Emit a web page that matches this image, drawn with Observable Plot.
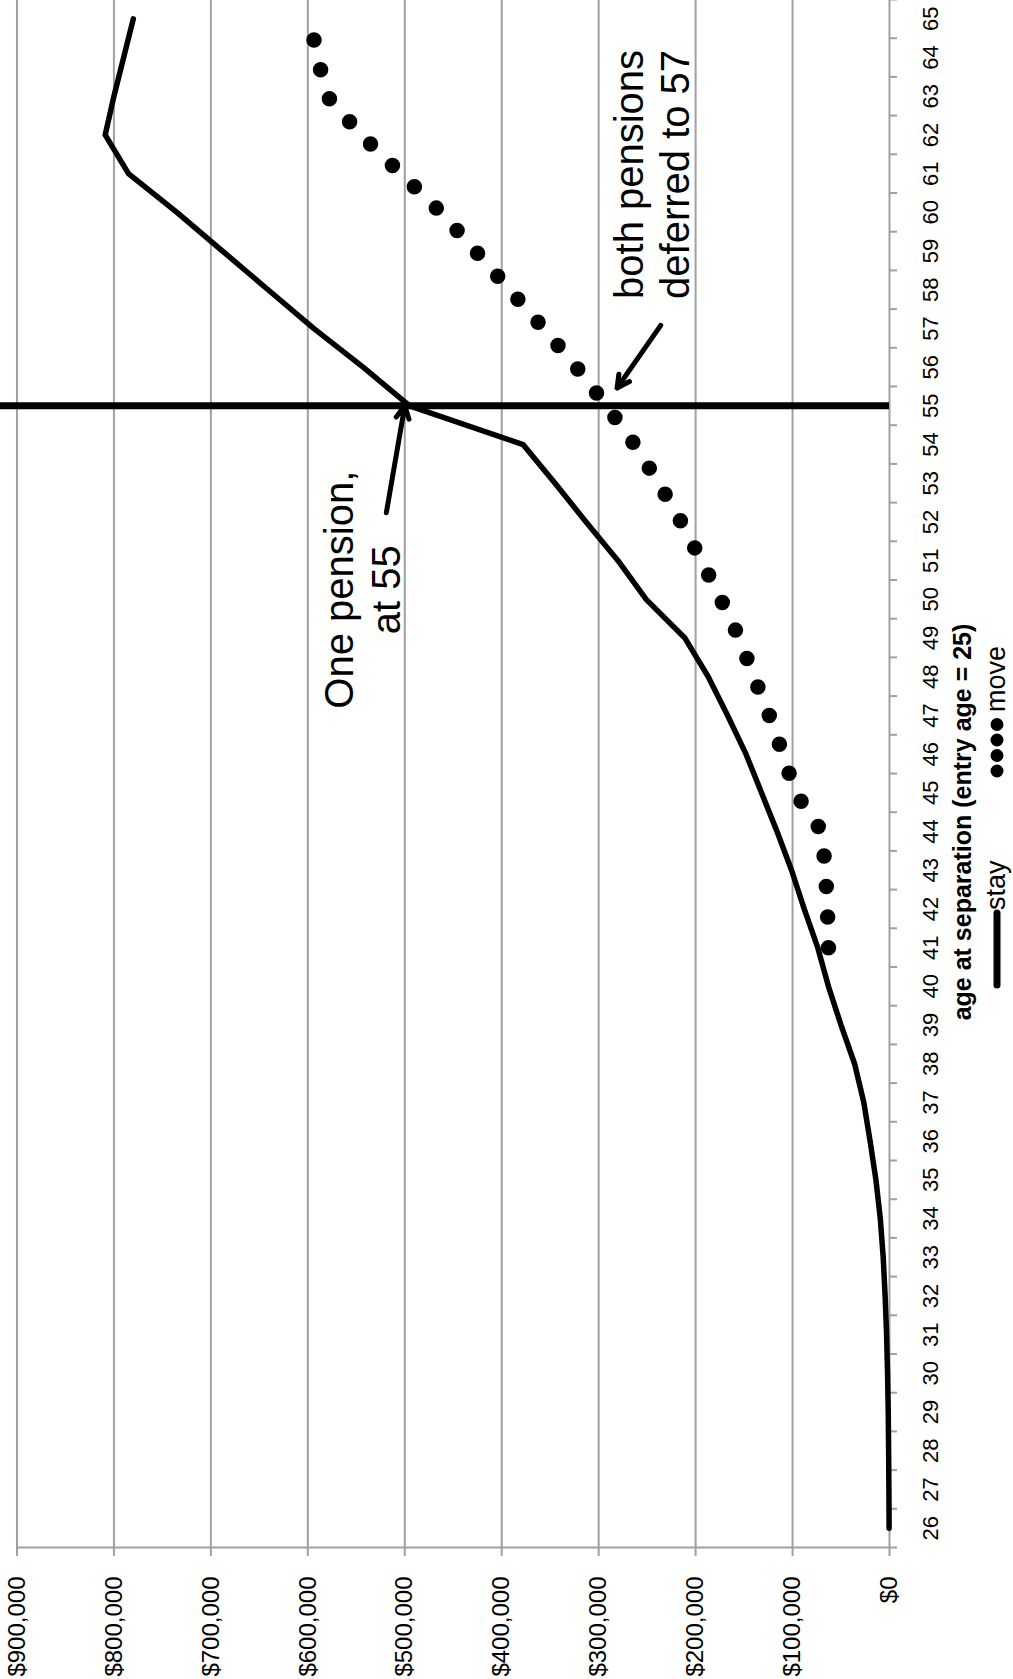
<!DOCTYPE html>
<html>
<head>
<meta charset="utf-8">
<script src="https://cdn.jsdelivr.net/npm/d3@7"></script>
<script src="https://cdn.jsdelivr.net/npm/@observablehq/plot@0.6"></script>
<style>
  html, body { margin: 0; padding: 0; width: 1013px; height: 1679px; overflow: hidden; background: #fff; }
  #rot { position: absolute; left: 0; top: 0; width: 1679px; height: 1013px;
         transform-origin: 0 0; transform: translate(0px, 1679px) rotate(-90deg);
         font-family: "Liberation Sans", Arial, sans-serif; background: #fff; }
  #rot svg text { fill: #000; }
  #rot svg [aria-label^="x-axis"] line, #rot svg [aria-label^="y-axis"] line,
  #rot svg [aria-label^="x-axis"] path, #rot svg [aria-label^="y-axis"] path { stroke-width: 2px; }
  .title { position: absolute; left: 557px; width: 600px; top: 950px; text-align: center;
           font-weight: bold; font-size: 25px; line-height: 25px; color: #000; white-space: nowrap; }
  .leg { position: absolute; font-size: 27px; line-height: 27px; color: #000; }
</style>
</head>
<body>
<div id="rot"></div>
<script>
// ---- data ----
const ages = [26,27,28,29,30,31,32,33,34,35,36,37,38,39,40,41,42,43,44,45,46,47,48,49,50,51,52,53,54,55,56,57,58,59,60,61,62,63,64,65];
const stayValues = [400,600,900,1300,2000,3000,4500,6500,9500,14000,20000,26500,36000,50000,63000,74000,88000,101000,116000,132000,148000,167000,187000,211000,251000,280000,313000,345000,378000,495000,543000,594000,641000,688000,735000,785000,809000,800000,790000,780000];
const moveAges = [41,42,43,44,45,46,47,48,49,50,51,52,53,54,55,56,57,58,59,60,61,62,63,64,65];
const moveValues = [63000,64000,66000,70000,97000,110000,124000,140000,155000,174000,194000,215000,238000,263000,292000,323000,357000,392000,427000,463000,504000,545000,580000,590000,598000];
const yTicks = [0,100000,200000,300000,400000,500000,600000,700000,800000,900000];
const markerAge = [55];
const noteTexts = ["One pension,\nat 55", "both pensions\ndeferred to 57"];
const noteAges = [50.25, 60.98];
const noteValues = [545000, 246000];
const arrowFromAges = [52.24, 57.08];
const arrowFromValues = [519000, 236000];
const arrowToAges = [55, 55.46];
const arrowToValues = [500000, 281000];
const xTitle = "age at separation (entry age = 25)";
const seriesNames = ["stay", "move"];

// ---- tables ----
const stay = ages.map((a, i) => ({age: a, value: stayValues[i]}));
const move = moveAges.map((a, i) => ({age: a, value: moveValues[i]}));
const notes = noteTexts.map((t, i) => ({text: t, age: noteAges[i], value: noteValues[i]}));
const arrows = arrowFromAges.map((a, i) => ({a1: a, v1: arrowFromValues[i], a2: arrowToAges[i], v2: arrowToValues[i]}));
const catEdges = d3.range(ages[0] - 0.5, ages[ages.length - 1] + 1, 1);

const gray = "#a0a0a0";
const chart = Plot.plot({
  width: 1679,
  height: 1013,
  marginLeft: 131,
  marginRight: 0,
  marginTop: 0,
  marginBottom: 124,
  style: {fontFamily: "'Liberation Sans', Arial, sans-serif", fontSize: "24px", color: gray, background: "#fff", overflow: "visible"},
  x: {domain: [ages[0] - 0.5, ages[ages.length - 1] + 0.5], ticks: catEdges, tickSize: 8, tickFormat: () => "", label: null},
  y: {domain: [0, 917000], ticks: yTicks, tickSize: 8, tickPadding: 21, tickFormat: d3.format("$,"), label: null},
  marks: [
    Plot.ruleY(yTicks, {stroke: gray, strokeWidth: 2}),
    Plot.ruleX([ages[0] - 0.5], {y1: 0, y2: 900000, stroke: gray, strokeWidth: 2}),
    Plot.ruleX(markerAge, {stroke: "#000", strokeWidth: 7}),
    Plot.line(stay, {x: "age", y: "value", stroke: "#000", strokeWidth: 5.5, strokeLinejoin: "round", strokeLinecap: "round"}),
    Plot.line(move, {x: "age", y: "value", stroke: "#000", strokeWidth: 15.5, strokeDasharray: "0 30.6", strokeLinecap: "round", strokeLinejoin: "round"}),
    Plot.arrow(arrows, {x1: "a1", y1: "v1", x2: "a2", y2: "v2", stroke: "#000", strokeWidth: 5, headLength: 4.2, headAngle: 55}),
    Plot.text(notes, {x: "age", y: "value", text: "text", fontSize: 40, lineHeight: 1.17, textAnchor: "middle", lineAnchor: "middle", fill: "#000"}),
    Plot.text(ages, {x: d => d, frameAnchor: "bottom", text: d => String(d), lineAnchor: "top", dy: 33, fontSize: 22, fill: "#000"})
  ]
});

const root = document.getElementById("rot");
root.appendChild(chart);

const title = document.createElement("div");
title.className = "title";
title.textContent = xTitle;
root.appendChild(title);

// legend
const ns = "http://www.w3.org/2000/svg";
function legendSvg(left, top, w, h, attrs) {
  const s = document.createElementNS(ns, "svg");
  s.setAttribute("width", w); s.setAttribute("height", h);
  s.style.position = "absolute"; s.style.left = left + "px"; s.style.top = top + "px";
  const l = document.createElementNS(ns, "line");
  for (const k in attrs) l.setAttribute(k, attrs[k]);
  s.appendChild(l);
  root.appendChild(s);
}
legendSvg(688, 987, 84, 20, {x1: 6, x2: 78, y1: 10, y2: 10, stroke: "#000", "stroke-width": 7, "stroke-linecap": "round"});
legendSvg(895, 987, 72, 20, {x1: 13, x2: 60, y1: 10, y2: 10, stroke: "#000", "stroke-width": 13, "stroke-linecap": "round", "stroke-dasharray": "0 15.5"});
const t1 = document.createElement("div"); t1.className = "leg"; t1.style.left = "769px"; t1.style.top = "983px"; t1.textContent = seriesNames[0]; root.appendChild(t1);
const t2 = document.createElement("div"); t2.className = "leg"; t2.style.left = "967px"; t2.style.top = "983px"; t2.textContent = seriesNames[1]; root.appendChild(t2);
</script>
</body>
</html>
